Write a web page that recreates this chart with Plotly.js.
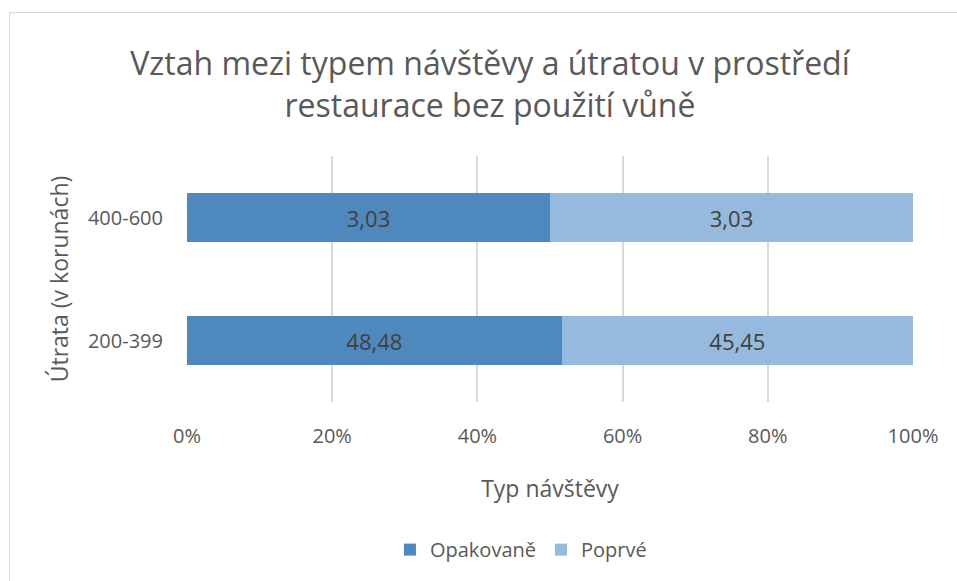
<!DOCTYPE html>
<html><head><meta charset="utf-8">
<script src="https://cdn.plot.ly/plotly-3.0.1.min.js"></script>
<style>
html,body{margin:0;padding:0;background:#fff;}
#frame{position:absolute;left:9px;top:12px;width:960px;height:580px;border-left:1px solid #d9d9d9;border-top:1px solid #d9d9d9;pointer-events:none;}
#chart{position:absolute;left:0;top:0;width:957px;height:581px;}
</style></head>
<body>
<div id="chart"></div>
<div id="frame"></div>
<script>
var categories = ["200-399", "400-600"];
var opakovane = [48.48, 3.03];
var poprve = [45.45, 3.03];
var seriesNames = ["Opakovaně", "Poprvé"];
var xTickVals = [0, 20, 40, 60, 80, 100];
var xTickText = ["0%", "20%", "40%", "60%", "80%", "100%"];

function fmt(v){ return v.toFixed(2).replace(".", ","); }
var F = "'Open Sans', sans-serif";
var C = "#595959";

var traces = [
 {type:"bar", orientation:"h", y:categories, x:opakovane, name:seriesNames[0],
  marker:{color:"#4f88bc"}, text:opakovane.map(fmt), textposition:"inside",
  insidetextanchor:"middle", textfont:{family:F,size:22,color:"#404040"}, hoverinfo:"none"},
 {type:"bar", orientation:"h", y:categories, x:poprve, name:seriesNames[1],
  marker:{color:"#96b9de"}, text:poprve.map(fmt), textposition:"inside",
  insidetextanchor:"middle", textfont:{family:F,size:22,color:"#404040"}, hoverinfo:"none"}
];

var layout = {
 width:957, height:581,
 barmode:"stack", barnorm:"percent", bargap:0.6,
 paper_bgcolor:"#fff", plot_bgcolor:"#fff",
 margin:{l:187, r:44, t:156, b:172},
 font:{family:F, color:C},
 title:{text:"Vztah mezi typem návštěvy a útratou v prostředí<br>restaurace bez použití vůně",
   font:{family:F,size:32,color:C}, x:0.512, xanchor:"center", y:0.871, yanchor:"middle"},
 xaxis:{range:[0,100], tickvals:xTickVals, ticktext:xTickText, showgrid:true, gridcolor:"#d9d9d9", gridwidth:2,
   zeroline:false, showline:false, tickfont:{family:F,size:20,color:C}, ticks:"", ticklabelstandoff:20,
   title:{text:"Typ návštěvy", font:{family:F,size:23,color:C}, standoff:32}, fixedrange:true},
 yaxis:{type:"category", categoryorder:"array", categoryarray:categories, showgrid:false, zeroline:false,
   tickfont:{family:F,size:20,color:C}, ticks:"", ticklabelstandoff:23,
   title:{text:"Útrata (v korunách)", font:{family:F,size:23,color:C}, standoff:12}, fixedrange:true},
 showlegend:true,
 legend:{orientation:"h", x:0.46, xanchor:"center", y:-0.6, yanchor:"middle",
   font:{family:F,size:20,color:C}, traceorder:"normal"}
};
Plotly.newPlot("chart", traces, layout, {displayModeBar:false, staticPlot:true});
</script>
</body></html>
